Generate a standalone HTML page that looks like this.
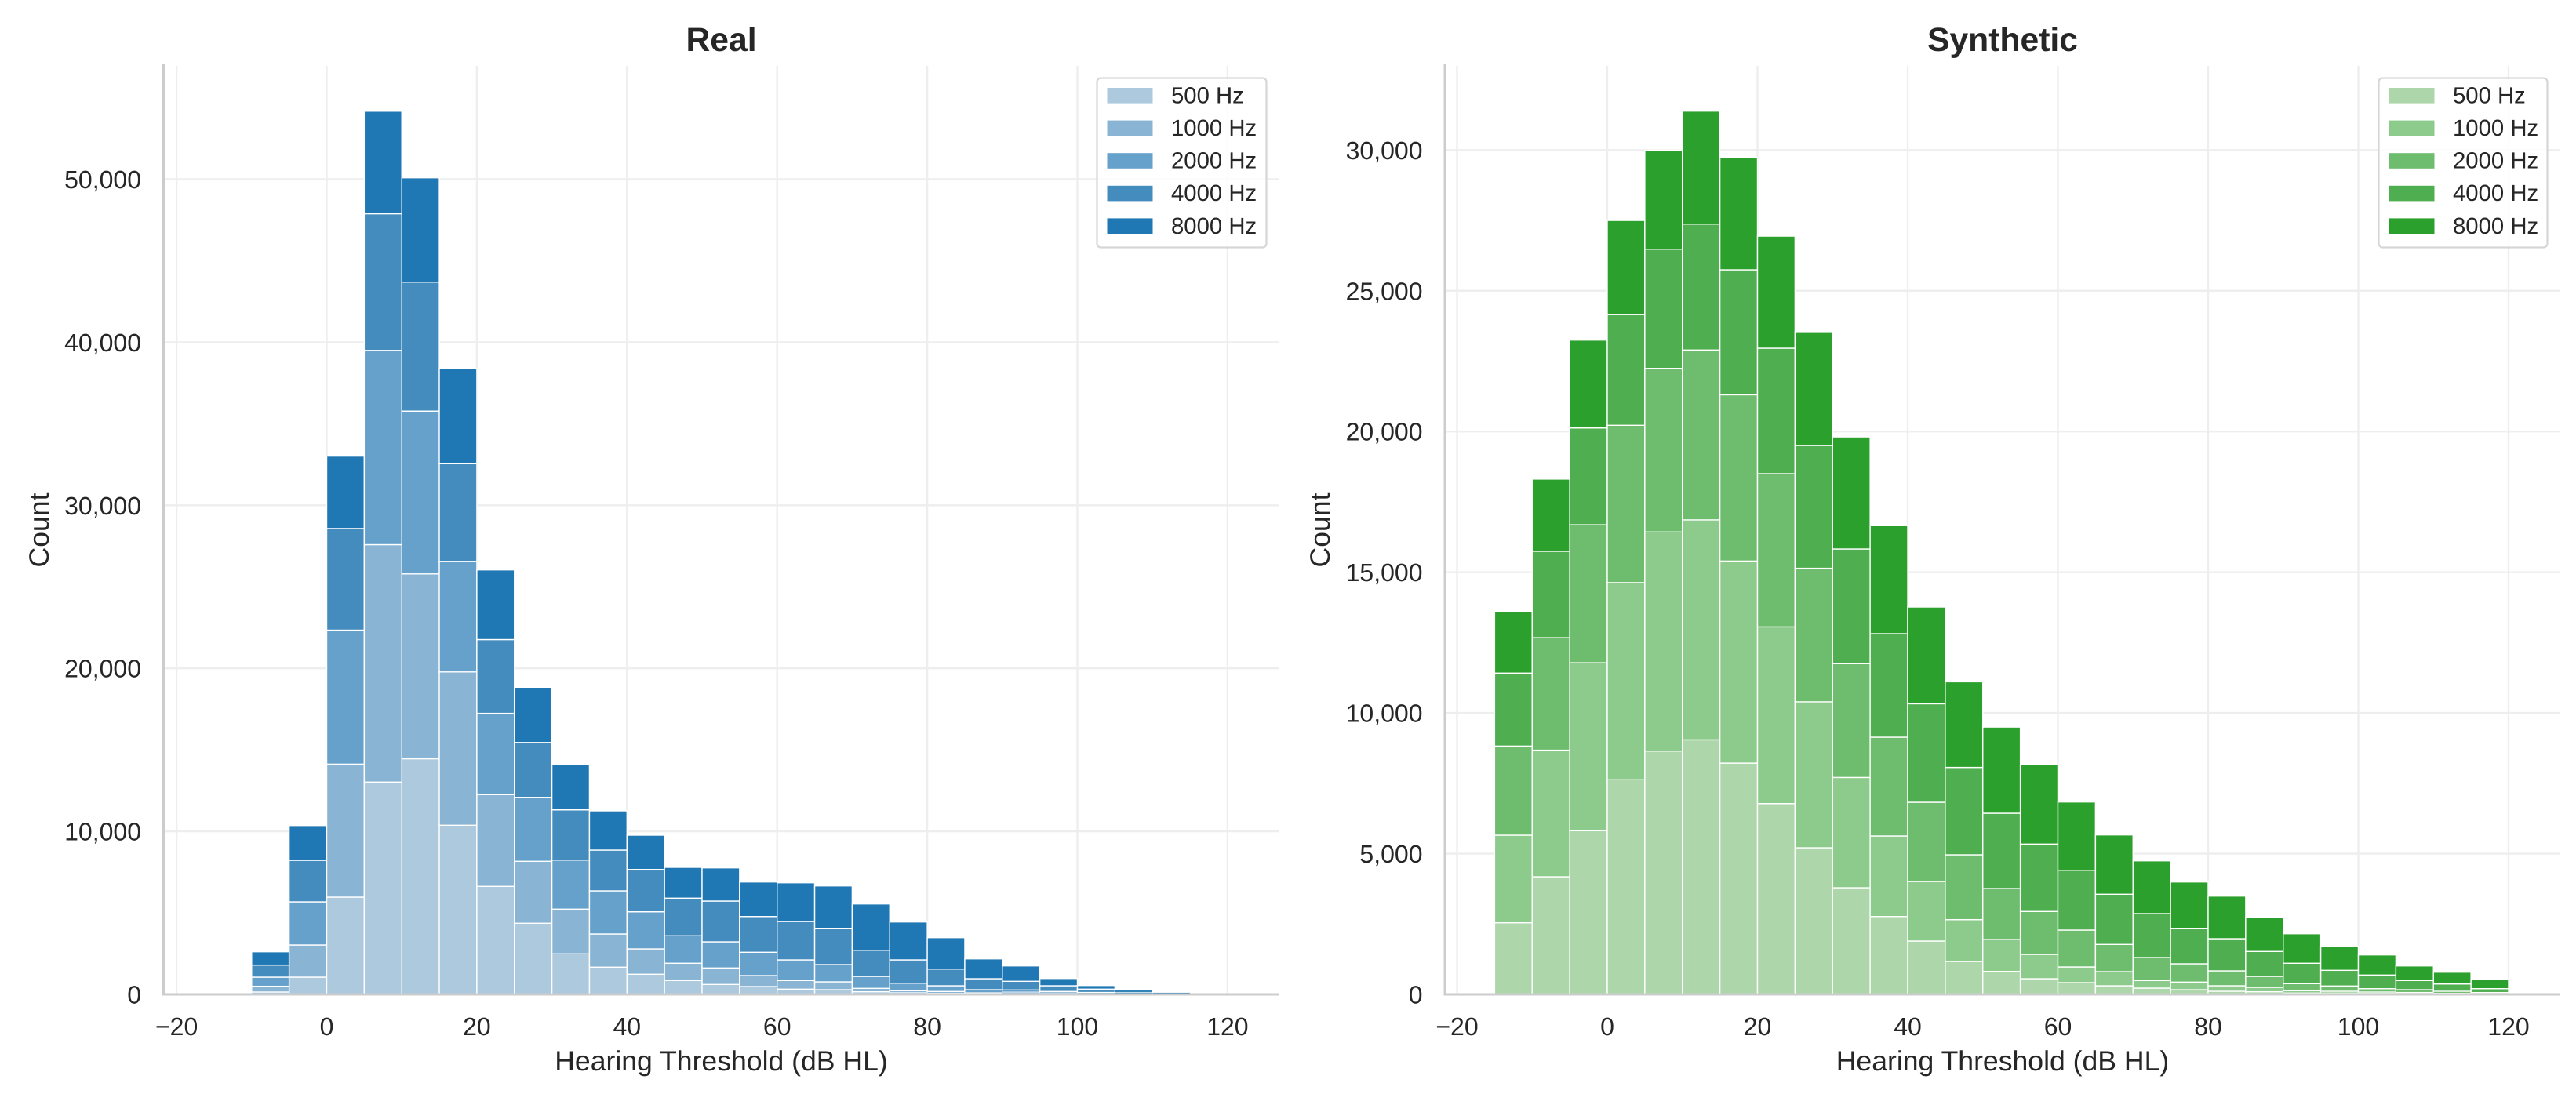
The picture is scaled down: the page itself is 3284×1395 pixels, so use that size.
<!DOCTYPE html>
<html lang="en">
<head>
<meta charset="utf-8">
<title>Hearing Threshold Distributions: Real vs Synthetic</title>
<style>
  html, body { margin: 0; padding: 0; background: #ffffff; }
  #figure { display: block; width: 3284px; height: 1395px; }
  text { font-family: "Liberation Sans", Arial, sans-serif; fill: #262626; text-rendering: geometricPrecision; }
</style>
</head>
<body>
<svg id="figure" xmlns="http://www.w3.org/2000/svg" width="3284" height="1395" viewBox="0 0 3284 1395"></svg>
<script>
// ---- chart data (counts per 5 dB bin) ----
const frequencyLabels = ['500 Hz', '1000 Hz', '2000 Hz', '4000 Hz', '8000 Hz'];
const xTickValues = [-20, 0, 20, 40, 60, 80, 100, 120];

const realBinStarts = [-10,-5,0,5,10,15,20,25,30,35,40,45,50,55,60,65,70,75,80,85,90,95,100,105,110];
const real500  = [144,1058,5965,13021,14454,10375,6623,4363,2487,1669,1236,851,610,481,322,289,160,111,80,64,64,50,30,15,5];
const real1000 = [353,1972,8157,14564,11338,9404,5628,3800,2741,2035,1554,1059,1011,673,529,481,210,115,98,32,80,50,30,15,5];
const real2000 = [561,2646,8220,11915,9985,6782,4988,3925,3012,2645,2275,1683,1602,1429,1265,1058,736,462,351,193,130,78,60,30,10];
const real4000 = [738,2549,6234,8383,7912,5988,4526,3362,3078,2501,2597,2309,2501,2193,2357,2227,1602,1428,1025,673,529,351,202,70,30];
const real8000 = [817,2132,4440,6287,6398,5845,4272,3391,2804,2405,2102,1890,2035,2117,2372,2597,2838,2324,1924,1217,943,447,222,125,61];
const realYTicks = [0, 10000, 20000, 30000, 40000, 50000];

const synthBinStarts = [-15,-10,-5,0,5,10,15,20,25,30,35,40,45,50,55,60,65,70,75,80,85,90,95,100,105,110,115];
const synth500  = [2545,4179,5815,7626,8646,9044,8217,6779,5210,3789,2767,1895,1170,817,557,418,306,223,167,111,93,56,56,47,47,28,20];
const synth1000 = [3112,4498,5968,7005,7785,7816,7180,6278,5186,3918,2861,2117,1486,1133,864,557,502,270,270,196,158,75,55,37,23,19,15];
const synth2000 = [3165,3998,4904,5589,5812,6035,5907,5444,4745,4043,3511,2814,2304,1811,1524,1310,967,817,650,529,390,251,187,119,97,64,30];
const synth4000 = [2594,3070,3438,3934,4235,4475,4441,4458,4363,4076,3678,3500,3104,2675,2396,2126,1783,1560,1262,1142,883,724,557,485,326,260,138];
const synth8000 = [2181,2564,3121,3344,3519,4012,3996,3982,4043,3982,3837,3438,3042,3062,2820,2424,2107,1875,1644,1513,1215,1048,853,714,518,417,335];
const synthYTicks = [0, 5000, 10000, 15000, 20000, 25000, 30000];

const binWidth = 5;
const blueShades = ['#acc9de', '#8ab4d3', '#66a1cb', '#448bbe', '#1f77b4'];
const greenShades = ['#add7ab', '#8ccb8b', '#6ebc6d', '#4fae4f', '#2ca02c'];

// ---- drawing ----
const svg = document.getElementById('figure');
const NS = 'http://www.w3.org/2000/svg';

function make(parent, tag, attrs, content) {
  const el = document.createElementNS(NS, tag);
  for (const k in attrs) el.setAttribute(k, attrs[k]);
  if (content !== undefined) el.textContent = content;
  parent.appendChild(el);
  return el;
}
function fmt(v) { return v.toLocaleString('en-US'); }

function drawPanel(p) {
  const xScale = v => p.x0 + p.xUnit * v;
  const yScale = v => p.y0 - p.yUnit * v;

  const group = make(svg, 'g', {});
  
  

  // gridlines
  p.yTicks.forEach(t => {
    const line = make(group, 'line', { x1: p.left, x2: p.right, y1: yScale(t), y2: yScale(t), stroke: '#eeeeee', 'stroke-width': 2.4 });
    
    
  });
  xTickValues.forEach(t => {
    const line = make(group, 'line', { x1: xScale(t), x2: xScale(t), y1: p.top, y2: p.y0, stroke: '#eeeeee', 'stroke-width': 2.4 });
    
    
  });

  // stacked histogram bars
  p.bins.forEach((start, i) => {
    let cumulative = 0;
    p.series.forEach((values, s) => {
      const v = values[i];
      const yTop = yScale(cumulative + v);
      const yBottom = yScale(cumulative);
      const barHeight = Math.max(0, yBottom - yTop);
      const bar = make(group, 'rect', {
        x: xScale(start),
        y: yTop,
        width: xScale(start + binWidth) - xScale(start),
        height: barHeight,
        fill: p.colors[s],
        stroke: '#ffffff',
        'stroke-width': Math.min(1.4, barHeight * 0.3)
      });
      
      
      cumulative += v;
    });
  });

  // spines
  const ySpine = make(group, 'line', { x1: p.left, x2: p.left, y1: p.top - 2, y2: p.y0 + 1.5, stroke: '#cccccc', 'stroke-width': 3 });
  
  
  const xSpine = make(group, 'line', { x1: p.left - 1.5, x2: p.right, y1: p.y0, y2: p.y0, stroke: '#cccccc', 'stroke-width': 3 });
  
  

  // tick labels
  xTickValues.forEach(t => {
    const label = make(group, 'text', { x: xScale(t), y: 1320, 'text-anchor': 'middle', 'font-size': 32 }, (t < 0 ? '\u2212' + Math.abs(t) : String(t)));
    
    
  });
  p.yTicks.forEach(t => {
    const label = make(group, 'text', { x: p.left - 28.5, y: yScale(t) + 11.5, 'text-anchor': 'end', 'font-size': 32 }, fmt(t));
    
    
  });

  // axis titles and panel title
  const xc = (p.left + p.right) / 2;
  const xTitle = make(group, 'text', { x: xc, y: 1365, 'text-anchor': 'middle', 'font-size': 35.6 }, 'Hearing Threshold (dB HL)');
  
  

  const yc = (p.top + p.y0) / 2;
  const yTitle = make(group, 'text', { x: p.yTitleX, y: yc, 'text-anchor': 'middle', 'font-size': 35.6, transform: 'rotate(-90 ' + p.yTitleX + ' ' + yc + ')' }, 'Count');
  
  

  const title = make(group, 'text', { x: xc, y: 65, 'text-anchor': 'middle', 'font-size': 42.67, 'font-weight': 'bold' }, p.title);
  
  

  // legend
  const legend = make(group, 'g', {});
  
  
  const legendBox = make(legend, 'rect', { x: p.legendX, y: 99.5, width: p.legendW, height: 216, rx: 5, ry: 5, fill: '#ffffff', 'fill-opacity': 0.8, stroke: '#d6d6d6', 'stroke-width': 2.2 });
  
  
  frequencyLabels.forEach((name, s) => {
    const top = 112 + s * 41.6;
    const swatch = make(legend, 'rect', { x: p.legendX + 13, y: top, width: 58, height: 19.6, fill: p.colors[s] });
    
    
    const label = make(legend, 'text', { x: p.legendX + 94.5, y: top + 19.4, 'font-size': 29.3 }, name);
    
    
  });
}

drawPanel({
  key: 'real', title: 'Real',
  x0: 416.5, xUnit: 9.57, y0: 1268, yUnit: 0.02079,
  left: 208.5, right: 1630.5, top: 84, yTitleX: 62,
  legendX: 1398.5, legendW: 216,
  bins: realBinStarts,
  series: [real500, real1000, real2000, real4000, real8000],
  yTicks: realYTicks, colors: blueShades
});
drawPanel({
  key: 'synthetic', title: 'Synthetic',
  x0: 2049, xUnit: 9.575, y0: 1268, yUnit: 0.03589,
  left: 1842, right: 3264, top: 84, yTitleX: 1695,
  legendX: 3032.5, legendW: 215,
  bins: synthBinStarts,
  series: [synth500, synth1000, synth2000, synth4000, synth8000],
  yTicks: synthYTicks, colors: greenShades
});
</script>
</body>
</html>
